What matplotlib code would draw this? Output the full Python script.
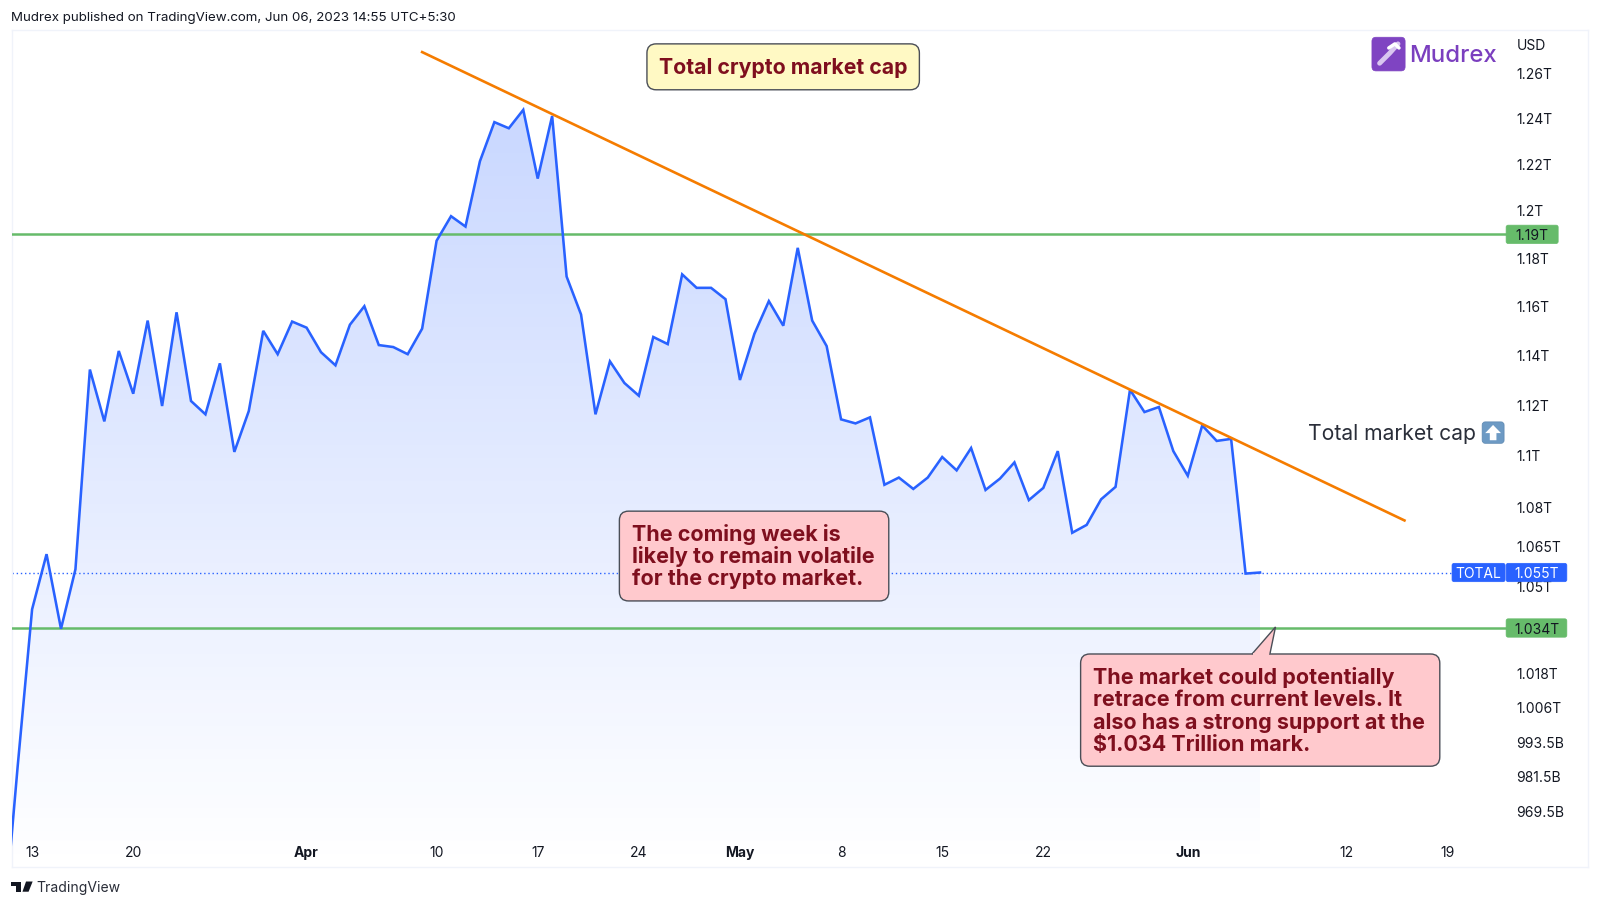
import datetime as dt
import numpy as np
import pandas as pd
import matplotlib
matplotlib.use('Agg')
import matplotlib.pyplot as plt
from matplotlib.patches import FancyBboxPatch, Polygon
from matplotlib.ticker import NullLocator

plt.rcParams['font.family'] = ['Inter', 'DejaVu Sans']

# Daily closes of TOTAL, in trillions of USD, starting Mar 11 2023
total = [
    0.9285, 0.985, 1.0416, 1.0622, 1.0344, 1.0565, 1.1342, 1.1135, 1.1417, 1.1245,
    1.1541, 1.1196, 1.1575, 1.1216, 1.1163, 1.1367, 1.1015, 1.1176, 1.1499, 1.1404,
    1.1537, 1.1512, 1.1412, 1.1359, 1.1524, 1.16, 1.1441, 1.1433, 1.1404, 1.1508,
    1.1873, 1.1977, 1.1933, 1.2213, 1.2384, 1.2357, 1.2438, 1.2138, 1.2411, 1.1723,
    1.1566, 1.1163, 1.1375, 1.1288, 1.1237, 1.1474, 1.1445, 1.1732, 1.1676, 1.1676,
    1.1629, 1.13, 1.1487, 1.1621, 1.152, 1.1843, 1.1541, 1.1437, 1.1143, 1.1127,
    1.1151, 1.0887, 1.0915, 1.0871, 1.0915, 1.0995, 1.0943, 1.103, 1.0867, 1.0911,
    1.0974, 1.0828, 1.0875, 1.1018, 1.0703, 1.0733, 1.0831, 1.0879, 1.1261, 1.1172,
    1.1192, 1.1018, 1.0922, 1.1119, 1.1058, 1.1066, 1.0549, 1.0553,
]
dates = pd.date_range('2023-03-11', periods=len(total))

resistance = 1.19
support = 1.0347
last_price = 1.0553
trend_dates = [dt.datetime(2023, 4, 9), dt.datetime(2023, 6, 16)]
trend_values = [1.2696, 1.075]

price_ticks = [1.26, 1.24, 1.22, 1.2, 1.18, 1.16, 1.14, 1.12, 1.1, 1.08, 1.065, 1.05,
               1.018, 1.006, 0.9935, 0.9815, 0.9695]
price_labels = ['1.26T', '1.24T', '1.22T', '1.2T', '1.18T', '1.16T', '1.14T', '1.12T',
                '1.1T', '1.08T', '1.065T', '1.05T', '1.018T', '1.006T', '993.5B',
                '981.5B', '969.5B']
date_ticks = [dt.datetime(2023, 3, 13), dt.datetime(2023, 3, 20), dt.datetime(2023, 4, 1),
              dt.datetime(2023, 4, 10), dt.datetime(2023, 4, 17), dt.datetime(2023, 4, 24),
              dt.datetime(2023, 5, 1), dt.datetime(2023, 5, 8), dt.datetime(2023, 5, 15),
              dt.datetime(2023, 5, 22), dt.datetime(2023, 6, 1), dt.datetime(2023, 6, 12),
              dt.datetime(2023, 6, 19)]
date_labels = ['13', '20', 'Apr', '10', '17', '24', 'May', '8', '15', '22', 'Jun', '12', '19']

BLUE = '#2962ff'
GREEN = '#66bb6a'
ORANGE = '#f57c00'
DARK_RED = '#7f0f1e'
PINK = '#ffc9cd'
INK = '#131722'

W, H = 1568, 888  # layout coordinates
fig = plt.figure(figsize=(16, 9.06), dpi=100, facecolor='white')
L, R, T, B = 11.4, 1556, 29.4, 850
ax = fig.add_axes([L / W, 1 - B / H, (R - L) / W, (B - T) / H])
ax.set_yscale('log')
ax.set_autoscale_on(False)
xlim = (dt.datetime(2023, 3, 11, 14), dt.datetime(2023, 6, 28, 16, 30))
ylim = (0.9504, 1.2796)
ax.set_xlim(*xlim)
ax.set_ylim(*ylim)

# Area under the line, vertical gradient
grad = np.zeros((256, 1, 4))
grad[:, 0, :3] = matplotlib.colors.to_rgb(BLUE)
grad[:, 0, 3] = np.linspace(0.28, 0.0, 256)
im = ax.imshow(grad, extent=[0, 1, 0, 1], transform=ax.transAxes, aspect='auto', zorder=1)
xnum = matplotlib.dates.date2num(dates)
poly_xy = np.column_stack([np.r_[xnum, xnum[-1], xnum[0]], np.r_[total, ylim[0], ylim[0]]])
clip = Polygon(poly_xy, closed=True, facecolor='none', edgecolor='none', transform=ax.transData)
ax.add_patch(clip)
im.set_clip_path(clip)
ax.set_xlim(*xlim)
ax.set_ylim(*ylim)

# Lines
line_end = (1476 - L) / (R - L)
ax.axhline(resistance, xmin=0, xmax=line_end, color=GREEN, lw=1.8, zorder=3)
ax.axhline(support, xmin=0, xmax=line_end, color=GREEN, lw=1.8, zorder=3)
ax.axhline(last_price, xmin=0, xmax=(1423 - L) / (R - L), color=BLUE, lw=1, ls=(0, (1, 2)), zorder=2)
ax.plot(dates, total, color=BLUE, lw=1.85, zorder=4, solid_joinstyle='miter')
ax.plot(trend_dates, trend_values, color=ORANGE, lw=1.9, zorder=5)

# Axes
ax.set_yticks(price_ticks, price_labels)
ax.yaxis.set_minor_locator(NullLocator())
ax.yaxis.tick_right()
ax.tick_params(axis='y', length=0, pad=-51.5, labelsize=10, labelcolor=INK)
for lab in ax.get_yticklabels():
    lab.set_ha('left')
ax.set_xticks(date_ticks, date_labels)
ax.tick_params(axis='x', length=0, pad=-15, labelsize=10, labelcolor=INK)
for lab in ax.get_xticklabels():
    if lab.get_text() in ('Apr', 'May', 'Jun'):
        lab.set_fontweight('bold')
for s in ax.spines.values():
    s.set_color('#f0f3fa')
    s.set_linewidth(1)

# Overlay in layout coordinates for boxes, tags and logos
ov = fig.add_axes([0, 0, 1, 1], zorder=10)
ov.set_xlim(0, W)
ov.set_ylim(H, 0)
ov.axis('off')
ov.patch.set_alpha(0)


def y_of(value):
    return T + (B - T) * np.log(ylim[1] / value) / np.log(ylim[1] / ylim[0])


def box(x0, y0, x1, y1, fc, ec='#4a4e57', rad=8, lw=1.0, z=2):
    p = FancyBboxPatch((x0 + rad, y0 + rad), x1 - x0 - 2 * rad, y1 - y0 - 2 * rad,
                       boxstyle='round,pad=%g,rounding_size=%g' % (rad, rad),
                       fc=fc, ec=ec, lw=lw, zorder=z)
    ov.add_patch(p)


def tag(x0, x1, value, text, fc, color):
    yc = y_of(value)
    box(x0, yc - 9, x1, yc + 9, fc, ec=fc, rad=2, lw=0.5, z=3)
    ov.text(x0 + (x1 - x0) / 2, yc, text, color=color, fontsize=10, ha='center', va='center_baseline', zorder=4)


tag(1476, 1527, resistance, '1.19T', GREEN, INK)
tag(1476, 1535.5, support, '1.034T', GREEN, INK)
tag(1423, 1475, last_price, 'TOTAL', BLUE, 'white')
tag(1476, 1535.5, last_price, '1.055T', BLUE, 'white')

ov.text(1486, 45, 'USD', fontsize=10, color=INK, va='center', ha='left')

# Header and footer
ov.text(11, 18, 'Mudrex published on TradingView.com, Jun 06, 2023 14:55 UTC+5:30',
        fontsize=9.6, color=INK, va='center', ha='left')
ov.text(36, 870, 'TradingView', fontsize=10.1, color='#2a2e39', va='center', ha='left')
ov.add_patch(Polygon([(11, 864), (21, 864), (21, 874), (16, 874), (16, 868.5), (11, 868.5)], fc='#131722', ec='none'))
ov.add_patch(Polygon([(25.5, 864), (32, 864), (28, 874), (22, 874)], fc='#131722', ec='none'))

# Notes
box(634, 43, 901, 88, '#fff9c4', rad=9)
ov.text(767.5, 66.5, 'Total crypto market cap', fontsize=15.3, fontweight='bold', color=DARK_RED,
        ha='center', va='center')

box(607, 501, 871, 589, PINK, rad=9)
for i, s in enumerate(['The coming week is', 'likely to remain volatile', 'for the crypto market.']):
    ov.text(619, 523.8 + i * 21.7, s, fontsize=15.5, fontweight='bold', color=DARK_RED, ha='left', va='center')

box(1059, 641, 1411, 751, PINK, rad=9)
ov.add_patch(Polygon([(1227, 641), (1250, 614.5), (1244.5, 641)], closed=False, fc=PINK, ec='#4a4e57', lw=1, zorder=3))
ov.add_patch(Polygon([(1228, 642), (1244, 642), (1244, 640), (1228, 640)], fc=PINK, ec='none', zorder=4))
for i, s in enumerate(['The market could potentially', 'retrace from current levels. It',
                       'also has a strong support at the', '$1.034 Trillion mark.']):
    ov.text(1071, 664.2 + i * 22, s, fontsize=15.5, fontweight='bold', color=DARK_RED, ha='left', va='center')

# Side label with arrow icon
ov.text(1282, 425, 'Total market cap', fontsize=15.2, color='#2a2e39', ha='left', va='center')
box(1452.5, 413.5, 1474, 434.5, '#6d9ac4', ec='#5c87b0', rad=3, lw=0.5)
ov.add_patch(Polygon([(1463.2, 416.5), (1471, 424.5), (1466.5, 424.5), (1466.5, 431.5),
                      (1460, 431.5), (1460, 424.5), (1455.5, 424.5)], fc='white', ec='none', zorder=3))

# Mudrex logo
box(1344.5, 36.5, 1377, 69.5, '#7f44c2', ec='#7f44c2', rad=4, lw=0.5)
ov.plot([1352, 1362, 1370], [62, 52, 43], color='#d9c6f0', lw=3.5, solid_capstyle='round', zorder=3)
ov.plot([1361, 1367, 1371], [47, 43, 47], color='white', lw=2.5, solid_capstyle='round', zorder=4)
ov.text(1381, 54.5, 'Mudrex', fontsize=17.2, fontweight='medium', color='#7b3fbf', ha='left', va='center')

fig.savefig('out.png', dpi=100, facecolor='white')
